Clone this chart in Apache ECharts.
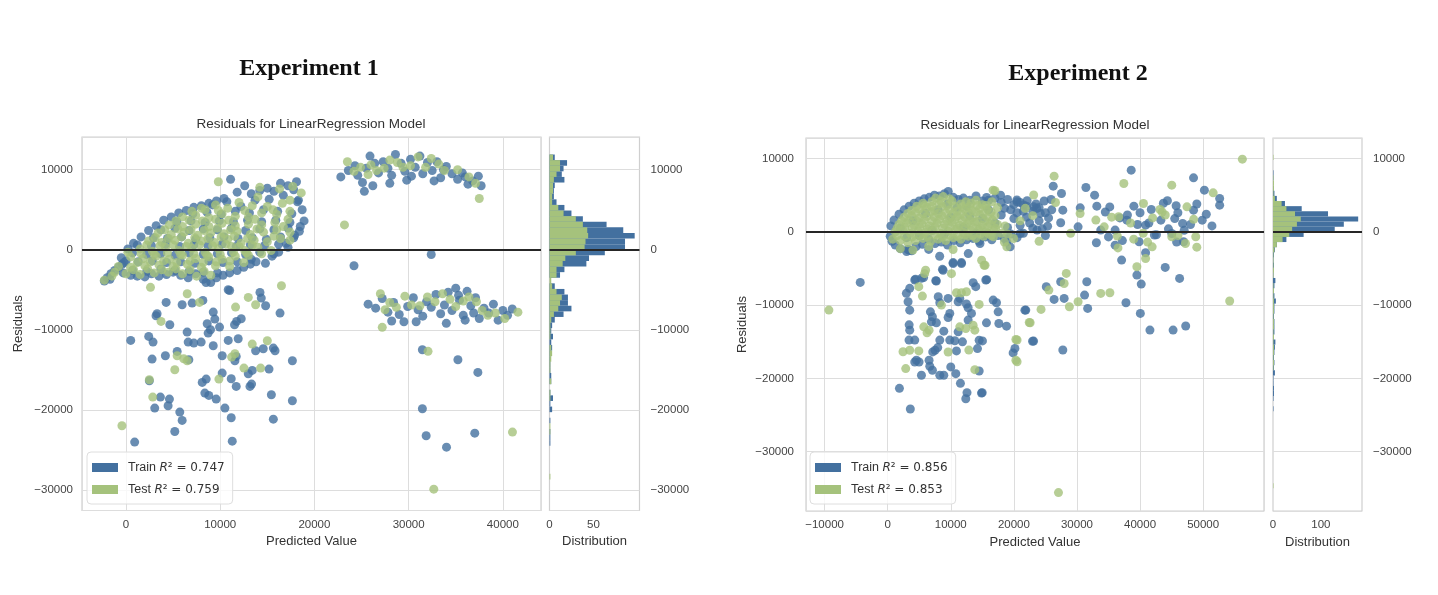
<!DOCTYPE html>
<html>
<head>
<meta charset="utf-8">
<script src="https://cdn.jsdelivr.net/npm/echarts@6/dist/echarts.min.js"></script>
<style>
    html, body { margin: 0; background: #fff; }
    #main { width: 1438px; height: 595px; }
</style>
</head>
<body>
<div id="main"></div>
<script>
// ---------- data ----------
// Experiment 1: [predicted value, residual]
var train1 = [
    [-2300,-3900],[-2000,-3500],[-1600,-3000],[-1200,-2600],[-1700,-3700],[-800,-2200],[-400,-1800],[0,-1400],[-300,-2900],[500,-3200],
    [1200,-3300],[2000,-3400],[2700,-3000],[3500,-3300],[4300,-3100],[5000,-2800],[5800,-3200],[6600,-3500],[7400,-3000],[8200,-3700],
    [9000,-4100],[9600,-3500],[10300,-3200],[11000,-2900],[11800,-2600],[12500,-2200],[13200,-1800],[13800,-1500],[14800,-1700],[15500,-800],
    [16200,-300],[17000,800],[17800,1500],[18500,2900],[18900,3600],[18700,5000],[18300,6200],[17800,7500],[17200,8000],[16400,8300],
    [15700,7300],[15000,7700],[14200,7400],[13300,7000],[12600,8000],[11800,7200],[11100,8800],[10400,6400],[9600,6100],[8800,5800],
    [8000,5500],[7200,5300],[6400,4900],[5600,4600],[4800,4100],[4000,3700],[3200,3000],[2400,2400],[1600,1600],[800,800],
    [200,100],[-500,-1000],[18100,8500],[11000,-5100],[8500,-4100],
    [700,-2600],[2200,-2700],[3700,-2400],[5200,-2600],[6700,-2700],[8200,-2800],[9700,-2900],
    [-200,-1600],[1300,-1500],[2800,-1400],[4300,-1600],[5800,-1500],[7300,-1700],[8800,-1400],[10300,-1600],[11800,-1500],[13300,-1200],
    [700,-400],[2200,-600],[3700,-500],[5200,-700],[6700,-400],[8200,-600],[9700,-500],[11200,-400],[12700,-600],[14200,-300],[15700,-500],
    [1200,600],[2700,500],[4200,700],[5700,400],[7200,600],[8700,500],[10200,700],[11700,400],[13200,600],[14700,500],[16200,700],[17200,300],
    [2900,1500],[4400,1400],[5900,1600],[7400,1300],[8900,1500],[10400,1600],[11900,1400],[13400,1500],[14900,1300],[16400,1600],[17900,1800],
    [3700,2500],[5200,2700],[6700,2400],[8200,2600],[9700,2500],[11200,2700],[12700,2400],[14200,2600],[15700,2500],[17200,2700],[18400,2300],
    [5400,3500],[6900,3600],[8400,3400],[9900,3600],[11400,3500],[12900,3700],[14400,3500],[15900,3700],[17400,3400],
    [7100,4500],[8600,4700],[10100,4400],[11600,4800],[13100,4600],[14600,5000],[16100,4800],[17600,4500],
    [9200,5600],[10700,6000],[12200,5400],[13700,6200],[15200,6300],[16700,6800],[18200,6000],
    [10850,-5000],[14220,-5330],[14360,-6040],[14820,-7000],[16350,-7920],[4260,-6580],[5960,-6880],[7020,-6670],[8160,-6330],[3300,-8000],
    [3190,-8250],[4650,-9380],[9260,-7790],[9430,-8670],[8620,-9250],[8970,-10000],[8720,-10420],[9930,-9670],[11520,-9380],[11740,-8960],
    [12230,-8630],[6490,-10290],[500,-11330],[2410,-10830],[2870,-11540],[6600,-11540],[7200,-11670],[7980,-11540],[9260,-12000],[10850,-11330],
    [11910,-11130],[13760,-12630],[14570,-12380],[15640,-12290],[15820,-12630],[17660,-13880],[5430,-12710],[4180,-13250],[2770,-13670],[6670,-13750],
    [10210,-13250],[11560,-13880],[11700,-13330],[10210,-15420],[11170,-16130],[11700,-17080],[12980,-15500],[13400,-15080],[15180,-14920],[13160,-17080],
    [13330,-16790],[8090,-16580],[8510,-16170],[8370,-17920],[8790,-18210],[9570,-18670],[10500,-19790],[11170,-21000],[2480,-16380],[3650,-18420],
    [4610,-18670],[4470,-19500],[3050,-19790],[5710,-20290],[5960,-21330],[5180,-22710],[920,-24040],[11280,-23920],[15430,-18130],[15640,-21170],
    [17660,-18880],
    [22800,9100],[23600,9900],[24300,10500],[24600,9300],[25100,8400],[25300,7300],[25900,11700],[26400,10800],[26800,9600],[27300,11000],
    [27800,10200],[28200,9300],[28600,11900],[29200,10800],[29600,9800],[30200,11300],[30700,10300],[31200,11700],[31500,9500],[32000,10900],
    [32500,9900],[33000,11000],[33400,9000],[34000,10400],[34600,9500],[35200,8800],[35700,9600],[36300,8200],[36800,8600],[37400,9200],
    [37700,8000],[26200,8000],[28000,8300],[29800,8700],[32700,8600],[25500,10200],[30300,9200],[33700,10000],[36000,9100],
    [25700,-6800],[26500,-7300],[27200,-6100],[27800,-7800],[28400,-6600],[29000,-8100],[29500,-9000],[29900,-7100],[30500,-6000],[31000,-7500],
    [31500,-8300],[31900,-6500],[32400,-7200],[32900,-5600],[33400,-8000],[33800,-6900],[34200,-5300],[34600,-7600],[35000,-4800],[35400,-6300],
    [35800,-8200],[36200,-5200],[36600,-7000],[37100,-6000],[37500,-8600],[38000,-7300],[38500,-7900],[39000,-6800],[39500,-8800],[40000,-7600],
    [40500,-8200],[41000,-7400],[34000,-9200],[36000,-8800],[28200,-8900],[30800,-9000],[35300,-5700],[36900,-7900],
    [24200,-2000],[32400,-600],[31460,-12500],[35230,-13750],[37350,-15330],[31460,-19870],[31860,-23250],[34020,-24670],[37020,-22920]
];
var test1 = [
    [-2300,-3800],[-1500,-3300],[0,-3000],[1500,-3100],[3000,-2900],[4500,-2800],[6000,-3000],[7500,-3300],[9000,-3200],
    [-800,-2100],[500,-2200],[2000,-2000],[3500,-1900],[5000,-2100],[6500,-1800],[8000,-2200],[9500,-2000],[11000,-2100],[12500,-1600],
    [500,-900],[1800,-1100],[3200,-800],[4600,-1200],[6000,-700],[7400,-1100],[8800,-900],[10200,-1200],[11600,-800],[13000,-700],[14400,-500],
    [1500,100],[2800,-200],[4200,300],[5600,-100],[7000,200],[8400,-300],[9800,100],[11200,400],[12600,-100],[14000,300],[15400,-100],
    [2400,1100],[3800,900],[5200,1200],[6600,800],[8000,1100],[9400,900],[10800,1300],[12200,800],[13600,1200],[15000,1000],[16400,1400],
    [3400,2100],[4800,1900],[6200,2200],[7600,1800],[9000,2100],[10400,2000],[11800,2300],[13200,1900],[14600,2200],[16000,2500],[17400,2200],
    [4600,3100],[6000,2900],[7400,3200],[8800,2900],[10200,3300],[11600,3000],[13000,3200],[14400,3100],[15800,3400],[17200,3800],
    [6000,4100],[7400,4300],[8800,4000],[10200,4500],[11600,4200],[13000,4100],[14400,4600],[16000,4400],[17400,4800],
    [8000,5200],[9500,5600],[10800,5200],[12000,5900],[13400,5500],[15000,5400],[16600,5800],[14000,6600],[17400,6200],
    [-1200,-2800],[800,-2500],[2300,-2400],[3800,-2500],[5300,-2400],[6800,-2500],[8300,-2700],
    [1200,-1600],[2600,-1500],[4000,-1400],[5400,-1600],[6800,-1400],[8200,-1600],[9600,-1500],[11000,-1400],
    [200,-300],[1600,-500],[3000,-600],[4400,-400],[5800,-600],[7200,-500],[8600,-700],[10000,-600],[11400,-300],[12800,-400],
    [2200,600],[3600,500],[5000,600],[6400,400],[7800,600],[9200,500],[10600,700],[12000,400],[13400,600],
    [3100,1500],[4500,1400],[5900,1600],[7300,1500],[8700,1400],[10100,1600],[11500,1700],[12900,1400],[15700,1700],
    [4100,2500],[5500,2600],[6900,2500],[8300,2400],[9700,2700],[11100,2500],[13900,2600],[16700,2900],
    [5300,3600],[6700,3700],[8100,3600],[9500,3800],[10900,3700],[13700,3800],
    [7000,4800],[8400,5000],[9800,4900],[12600,4900],[15600,5000],
    [9800,8500],[14200,7800],[18600,7100],[17700,7900],[17400,1200],[16500,-4500],[2600,-4700],[6500,-5500],[16300,7600],
    [7800,-6580],[11630,-7170],[12980,-5960],[13760,-6880],[3720,-8960],[5430,-13250],[6130,-13630],[6490,-13880],[5180,-15000],[13400,-11790],
    [15000,-11380],[11210,-13420],[11560,-13000],[12520,-14790],[14290,-14790],[9860,-16170],[2480,-16250],[2840,-18420],[-430,-22000],
    [23500,11000],[24200,9800],[24900,10300],[25700,9400],[26000,10600],[26600,9900],[27400,10200],[28000,11200],[28800,10900],[29400,10300],
    [30200,10500],[31000,11600],[31800,10300],[32400,11400],[33200,10700],[33800,9900],[35200,10000],[36400,9100],[37100,8300],[37500,6400],
    [23190,3100],
    [27000,-5500],[27500,-7500],[28000,-6600],[28700,-7200],[29600,-5800],[30300,-6900],[31200,-7000],[32000,-5900],[32800,-6500],[33600,-5500],
    [34400,-6200],[35000,-7100],[35800,-6400],[36400,-5900],[37200,-6500],[37800,-7600],[38400,-8200],[39200,-7900],[40200,-8600],[41600,-7800],
    [27200,-9700],[32060,-12700],[41020,-22790],[32670,-29920]
];

// Experiment 2: [predicted value, residual]
var train2 = [
    [400,-600],[700,-1300],[1200,-1800],[2000,-2300],[3000,-2700],[3800,-2600],[4500,-2000],[5500,-1700],[6500,-2400],[7500,-1600],
    [8500,-1400],[9500,-1800],[10500,-1200],[11500,-1500],[12500,-1100],[13500,-900],[14500,-1300],[15500,-700],[16500,-1100],[17500,-500],
    [18500,-900],[19500,-300],[20500,-800],[21500,-200],
    [500,800],[1000,1600],[1800,2400],[2600,3000],[3400,3500],[4200,3900],[5000,4200],[5800,4500],[6600,4700],[7400,5000],
    [8200,4900],[9000,5200],[9600,5500],[10400,4700],[11200,4400],[12000,4600],[13000,4300],[14000,4900],[15000,4200],[16000,4300],
    [17000,4600],[18000,4000],[19000,4400],[20000,3700],[21000,4000],[22000,3500],[23000,2800],[24000,3300],[25000,2600],
    [2000,500],[3000,-800],[4000,1500],[5000,-500],[6000,2500],[7000,200],[8000,3000],[9000,-300],[10000,2000],[11000,3300],
    [12000,600],[13000,2200],[14000,-200],[15000,1800],[16000,3000],[17000,1200],[18000,2300],[19000,600],[20000,1800],[21000,900],
    [22000,2000],[23000,500],[24000,1500],[25000,-500],[6500,-1000],[9500,3800],[12500,3500],[15500,-400],[18500,3200],[21500,2800],
    [19500,3000],[20500,2600],[22500,1200],[23500,3800],[24500,400],[25500,1900],[26000,3000],[24800,4200],
    [20480,4340],[21540,3650],[23140,3420],[24200,2510],[23670,230],[18880,-1370],[19410,-2050],[21010,-230],[8240,-3330],[12770,-2970],
    [14630,-1600],[3460,-2510],[3190,-2420],[8780,-5250],[10370,-4340],[11700,-4340],[15690,-6530],[4410,-6480],[5690,-6250],[7710,-6710],
    [38600,8410],[48480,7360],[26240,6230],[31420,6040],[32800,5000],[27550,5230],[25900,4410],[50200,5680],[52620,4550],[52620,3640],
    [44340,4230],[45720,3550],[48480,2950],[39020,3500],[41780,3050],[33150,3500],[30520,3270],[27760,2950],[23620,3180],[22100,4230],
    [20510,4090],[17890,5000],[15680,4680],[49860,1590],[46750,1140],[43300,1590],[40880,910],[37910,1590],[36050,230],[33770,230],
    [30180,680],[27420,1230],[25350,770],[45030,-230],[46900,-1360],[42270,-450],[39850,-1360],[36050,-1820],[33080,-1500],[40880,-2860],
    [37080,-3860],[43990,-4860],[39500,-5910],[40190,-7140],[46270,-6360],[31560,-6820],[27420,-6820],[25140,-7500],[27970,-9090],[26380,-9230],
    [31210,-8640],[31700,-10450],[37770,-9680],[40050,-11140],[41570,-13410],[45240,-13410],[47240,-12860],[27760,-16130],[23130,-14910],[21890,-10680],
    [20170,-15910],[-4350,-6910],[12570,-21950],[14980,-21950],[11530,-20680],[3590,-24180],[1860,-21360],
    [34500,2700],[35200,3400],[36800,1900],[38000,2300],[39600,1000],[40000,2600],[41400,1200],[42600,-400],[43700,3900],[44500,400],
    [45500,1800],[46000,2600],[47000,200],[48000,1000],[49000,3800],[50500,2400],[51400,800],[45800,-1400],[37200,-1200],[35000,-700],
    [4290,-6580],[5350,-6350],[7620,-6670],[8680,-5120],[10370,-4200],[11690,-4200],[2960,-8400],[3490,-7720],[3230,-9550],[3490,-10690],
    [8010,-8860],[8260,-9680],[9580,-9090],[11430,-9090],[11170,-9550],[13550,-6940],[13960,-7490],[15550,-6580],[12750,-10370],[13280,-11140],
    [14500,-14800],[15020,-14890],[14230,-15940],[16720,-9320],[17250,-9680],[17510,-10920],[17620,-12510],[18840,-12880],[21750,-10690],[22960,-14930],
    [19880,-16530],[15660,-12420],[6770,-10920],[6930,-12290],[7090,-11600],[7720,-12420],[8890,-13560],[9840,-11140],[9580,-11690],[11170,-13650],
    [11850,-15020],[10900,-16250],[10640,-14870],[9840,-14780],[8260,-14780],[7510,-16160],[7140,-16390],[7930,-15800],[6560,-17530],[6670,-18350],
    [7090,-18900],[8260,-19580],[8890,-19580],[10000,-18440],[10800,-19360],[12380,-22790],[14870,-22010],[14500,-18990],[3380,-14780],[4290,-14780],
    [4550,-17530],[4290,-17760],[4970,-17760],[5350,-19580],[3400,-12700],[3490,-13420],[12480,-9860],[12750,-12050]
];
var test2 = [
    [800,-1000],[2000,-1200],[3200,-1500],[4400,-1200],[5600,-900],[6800,-1300],[8000,-1000],[9200,-1200],[10400,-800],[11600,-1000],
    [12800,-600],[14000,-900],[15200,-600],[16400,-500],[18000,-200],
    [1200,0],[2400,200],[3600,-200],[4800,100],[6000,-100],[7200,200],[8400,-200],[9600,100],[10800,300],[12000,-100],
    [13200,200],[14400,300],[15600,0],[16800,200],[19000,-300],
    [1800,1000],[3000,1200],[4200,900],[5400,1100],[6600,800],[7800,1200],[9000,1000],[10200,1300],[11400,900],[12600,1100],
    [13800,1300],[15000,900],[16200,1100],[17400,1000],[18600,800],
    [2600,2000],[3800,2200],[5000,1900],[6200,2100],[7400,2000],[8600,2200],[9800,1800],[11000,2100],[12200,2000],[13400,1900],
    [14600,2300],[15800,2000],[17000,2200],
    [3800,2900],[5000,3100],[6200,3300],[7400,2900],[8600,3400],[9800,3000],[11000,2800],[12200,3100],[13400,2900],[14600,3200],
    [15800,3100],[17400,3300],
    [5600,3900],[7000,4100],[8400,4200],[9800,4500],[11600,3800],[13200,3900],[15000,3700],[16500,4100],
    [1500,-500],[2700,-600],[3900,-700],[5100,-500],[6300,-600],[7500,-400],[8700,-700],[9900,-500],[11100,-600],[12300,-400],
    [13500,-500],[14700,-300],[15900,-200],
    [1500,500],[2700,600],[3900,500],[5100,600],[6300,400],[7500,700],[8700,500],[9900,600],[11100,500],[12300,700],
    [13500,600],[14700,500],[15900,700],[17100,500],
    [2200,1500],[3400,1600],[4600,1500],[5800,1600],[7000,1500],[8200,1700],[9400,1500],[10600,1600],[11800,1500],[13000,1600],
    [14200,1400],[15400,1500],[16600,1600],
    [3200,2500],[4400,2600],[5600,2500],[6800,2700],[8000,2500],[9200,2600],[10400,2500],[11600,2400],[12800,2600],[14000,2700],
    [15200,2500],[16400,2700],
    [4600,3500],[5800,3600],[7000,3500],[8200,3800],[9400,3600],[10600,3500],[11800,3400],[13000,3500],[14200,3600],[15600,3600],
    [7600,4600],[8800,4800],[10200,4200],[12400,4100],[14000,4300],
    [2000,-2300],[4000,-2500],[6500,-2000],[17000,5600],[26600,4000],[21000,1500],[23000,2200],[24000,-1300],[18500,-1400],[30500,2500],
    [33000,1600],[29000,-200],[35500,2000],[38500,1200],[42000,1900],[44000,2300],[46000,-500],[48500,1700],[39000,-1000],[41200,-1400],
    [43500,2700],[47200,-1600],[36500,-2200],[40500,-200],[49000,-2100],
    [23140,5020],[21810,3200],[19950,-910],[16760,-680],[18880,-2050],[10370,-2420],[14890,-3880],[15430,-4570],[6010,-5250],[5850,-5710],
    [10110,-5710],[4930,-7490],[5500,-8770],[5720,-12970],[6240,-13790],[6560,-13420],[8520,-10000],[10900,-8310],[11690,-8310],[12480,-8180],
    [11430,-12970],[12380,-13190],[13540,-12740],[13810,-13420],[14500,-9910],[12860,-16140],[9580,-16410],[13810,-18810],[2430,-16370],[3490,-16160],
    [4930,-16250],[2860,-18670],[15280,-4570],[22440,-12370],[20320,-14700],[20320,-17530],[24310,-10590],
    [56220,9910],[37430,6590],[45030,6360],[26380,7590],[16710,5680],[40540,3860],[51590,5320],[43160,3050],[36600,2050],[47440,3410],
    [34320,680],[36400,-590],[48830,-680],[45030,-680],[41920,-2050],[40880,-3640],[39500,-4770],[33770,-8410],[35220,-8320],[30180,-9540],
    [28800,-10230],[22580,-12410],[20510,-14770],[20510,-17730],[28310,-5680],[27970,-7050],[25550,-7950],[54210,-9450],[-9320,-10680],[27070,-35590]
];

// residual histograms: counts per bin, from the top bin downwards
var binWidth = 700;
var histTop1Train = 11900;
var histTrain1 = [6,20,16,14,17,6,5,5,8,17,25,38,65,84,97,86,86,63,45,42,17,12,0,6,17,21,21,25,16,6,3,
                  2,4,2,3,2,1,1,1,2,2,0,1,4,1,3,0,1,0,1,1,1];
var histTop1Test = 11900;
var histTest1 = [4,12,12,8,5,4,4,3,3,10,16,30,38,43,44,41,40,30,18,15,8,8,2,3,8,14,12,10,5,2,1,
                 1,1,0,2,3,2,1,1,0,2,0,1,1,0,0,0,0,1,1,0,0,0,0,0,0,0,1];
var histTop2Train = 8400;
var histTrain2 = [1,1,0,2,3,8,25,60,115,178,148,129,64,28,8,4,2,1,2,1,1,5,3,2,3,6,3,3,2,3,3,3,2,5,4,3,2,3,2,4,1,1,2,2,1,0,1];
var histTop2Test = 10500;
var histTest2 = [1,0,0,0,1,2,2,1,4,18,28,46,58,50,40,34,20,8,3,1,1,1,2,1,0,1,2,1,2,2,2,1,2,2,1,2,1,2,2,1,2,1,
                 0,0,0,0,0,0,0,0,0,0,0,0,0,0,0,0,0,0,0,0,0,0,1];

var r2Train1 = '0.747', r2Test1 = '0.759';
var r2Train2 = '0.856', r2Test2 = '0.853';

// ---------- chart ----------
var FONT = 'Liberation Sans';
var C_TRAIN = '#43709f';
var C_TEST = '#a5c27c';
var GRID_LINE = '#dddddd';

function fmt(v) {
    return v < 0 ? '\u2212' + Math.abs(v) : String(v);
}

function bins(top, counts) {
    return counts.map(function (c, i) {
        return [top - binWidth * (i + 1), top - binWidth * i, c];
    });
}

function renderBar(color) {
    return function (params, api) {
        var p0 = api.coord([0, api.value(1)]);
        var p1 = api.coord([api.value(2), api.value(0)]);
        return {
            type: 'rect',
            shape: {x: p0[0], y: p0[1], width: p1[0] - p0[0], height: p1[1] - p0[1]},
            style: {fill: color}
        };
    };
}

var zeroLine = {
    silent: true,
    symbol: ['none', 'none'],
    label: {show: false},
    lineStyle: {color: '#262626', width: 2, type: 'solid'},
    data: [{yAxis: 0}]
};

function gridBox(left, top, width, height) {
    return {left: left, top: top, width: width, height: height, show: true,
            borderColor: '#cfcfcf', borderWidth: 1.2, backgroundColor: 'rgba(0,0,0,0)'};
}

function scatterX(grid, min, max) {
    return {
        type: 'value', gridIndex: grid, min: min, max: max,
        name: 'Predicted Value', nameLocation: 'middle', nameGap: 24,
        nameTextStyle: {fontFamily: FONT, fontSize: 13, color: '#333'},
        axisLine: {show: false}, axisTick: {show: false},
        splitLine: {show: true, lineStyle: {color: GRID_LINE, width: 1}},
        axisLabel: {fontFamily: FONT, fontSize: 11.5, color: '#444', margin: 8,
                    showMinLabel: false, showMaxLabel: false, formatter: fmt}
    };
}

function histX(grid, max, step) {
    return {
        type: 'value', gridIndex: grid, min: 0, max: max, interval: step,
        name: 'Distribution', nameLocation: 'middle', nameGap: 24,
        nameTextStyle: {fontFamily: FONT, fontSize: 13, color: '#333'},
        axisLine: {show: false}, axisTick: {show: false}, splitLine: {show: false},
        axisLabel: {fontFamily: FONT, fontSize: 11.5, color: '#444', margin: 8, showMaxLabel: false,
                    formatter: function (v) { return v <= step ? String(v) : ''; }}
    };
}

function scatterY(grid, min, max, margin) {
    return {
        type: 'value', gridIndex: grid, min: min, max: max,
        name: 'Residuals', nameLocation: 'middle', nameGap: 57, nameRotate: 90,
        nameTextStyle: {fontFamily: FONT, fontSize: 13, color: '#333'},
        axisLine: {show: false}, axisTick: {show: false},
        splitLine: {show: true, lineStyle: {color: GRID_LINE, width: 1}},
        axisLabel: {fontFamily: FONT, fontSize: 11.5, color: '#444', margin: margin,
                    showMinLabel: false, showMaxLabel: false, formatter: fmt}
    };
}

function histY(grid, min, max) {
    return {
        type: 'value', gridIndex: grid, min: min, max: max, position: 'right',
        axisLine: {show: false}, axisTick: {show: false},
        splitLine: {show: true, lineStyle: {color: GRID_LINE, width: 1}},
        axisLabel: {fontFamily: FONT, fontSize: 11.5, color: '#444', margin: 11,
                    showMinLabel: false, showMaxLabel: false, formatter: fmt}
    };
}

var legendText = {
    train1: ['Train', r2Train1], test1: ['Test', r2Test1],
    train2: ['Train', r2Train2], test2: ['Test', r2Test2]
};

function legendBox(left, names) {
    return {
        left: left, top: 452, orient: 'vertical', selectedMode: false,
        icon: 'rect', itemWidth: 26, itemHeight: 9, itemGap: 9,
        padding: [9, 8, 8, 5],
        borderColor: '#dedede', borderWidth: 1, borderRadius: 4,
        backgroundColor: 'rgba(255,255,255,0.8)',
        data: [
            {name: names[0], itemStyle: {color: C_TRAIN, opacity: 1}},
            {name: names[1], itemStyle: {color: C_TEST, opacity: 1}}
        ],
        formatter: function (name) {
            var t = legendText[name];
            return '{t|' + t[0] + ' }{i|R}{m|\u00b2 = ' + t[1] + '}';
        },
        textStyle: {
            padding: [0, 0, 0, 5],
            rich: {
                t: {fontFamily: FONT, fontSize: 12.5, color: '#333', lineHeight: 15},
                i: {fontFamily: 'DejaVu Sans', fontStyle: 'italic', fontSize: 12, color: '#333', lineHeight: 15},
                m: {fontFamily: 'DejaVu Sans', fontSize: 12, color: '#333', lineHeight: 15}
            }
        }
    };
}

function scatter(name, data, color, xi, withLine) {
    var s = {
        name: name, type: 'scatter', xAxisIndex: xi, yAxisIndex: xi,
        data: data, symbolSize: 9, silent: true,
        itemStyle: {color: color, opacity: 0.8}
    };
    if (withLine) s.markLine = zeroLine;
    return s;
}

function hist(data, color, xi, withLine) {
    var s = {
        type: 'custom', xAxisIndex: xi, yAxisIndex: xi, silent: true,
        data: data, encode: {x: 2, y: [0, 1]},
        renderItem: renderBar(color)
    };
    if (withLine) s.markLine = zeroLine;
    return s;
}

function textEl(text, x, y, font, color) {
    return {
        type: 'text', x: x, y: y,
        style: {text: text, font: font, fill: color, align: 'center', textAlign: 'center',
                verticalAlign: 'top', textVerticalAlign: 'top'}
    };
}

var chart = echarts.init(document.getElementById('main'));
chart.setOption({
    backgroundColor: '#ffffff',
    animation: false,
    graphic: [
        textEl('Experiment 1', 309, 57, 'bold 24px "Liberation Serif"', '#111'),
        textEl('Residuals for LinearRegression Model', 311, 117, '13.5px "Liberation Sans"', '#333'),
        textEl('Experiment 2', 1078, 62, 'bold 24px "Liberation Serif"', '#111'),
        textEl('Residuals for LinearRegression Model', 1035, 118, '13.5px "Liberation Sans"', '#333')
    ],
    legend: [
        legendBox(87, ['train1', 'test1']),
        legendBox(810, ['train2', 'test2'])
    ],
    grid: [
        gridBox(82, 137, 459, 373.5),
        gridBox(549.5, 137, 90, 373.5),
        gridBox(806, 138, 458, 373),
        gridBox(1273, 138, 89, 373)
    ],
    xAxis: [
        scatterX(0, -4670, 44050),
        histX(1, 102.5, 50),
        scatterX(2, -12950, 59650),
        histX(3, 186, 100)
    ],
    yAxis: [
        scatterY(0, -32590, 14090, 9),
        histY(1, -32590, 14090),
        scatterY(2, -38100, 12800, 12),
        histY(3, -38100, 12800)
    ],
    series: [
        scatter('train1', train1, C_TRAIN, 0, false),
        scatter('test1', test1, C_TEST, 0, true),
        hist(bins(histTop1Train, histTrain1), C_TRAIN, 1, false),
        hist(bins(histTop1Test, histTest1), C_TEST, 1, true),
        scatter('train2', train2, C_TRAIN, 2, false),
        scatter('test2', test2, C_TEST, 2, true),
        hist(bins(histTop2Train, histTrain2), C_TRAIN, 3, false),
        hist(bins(histTop2Test, histTest2), C_TEST, 3, true)
    ]
});
</script>
</body>
</html>
